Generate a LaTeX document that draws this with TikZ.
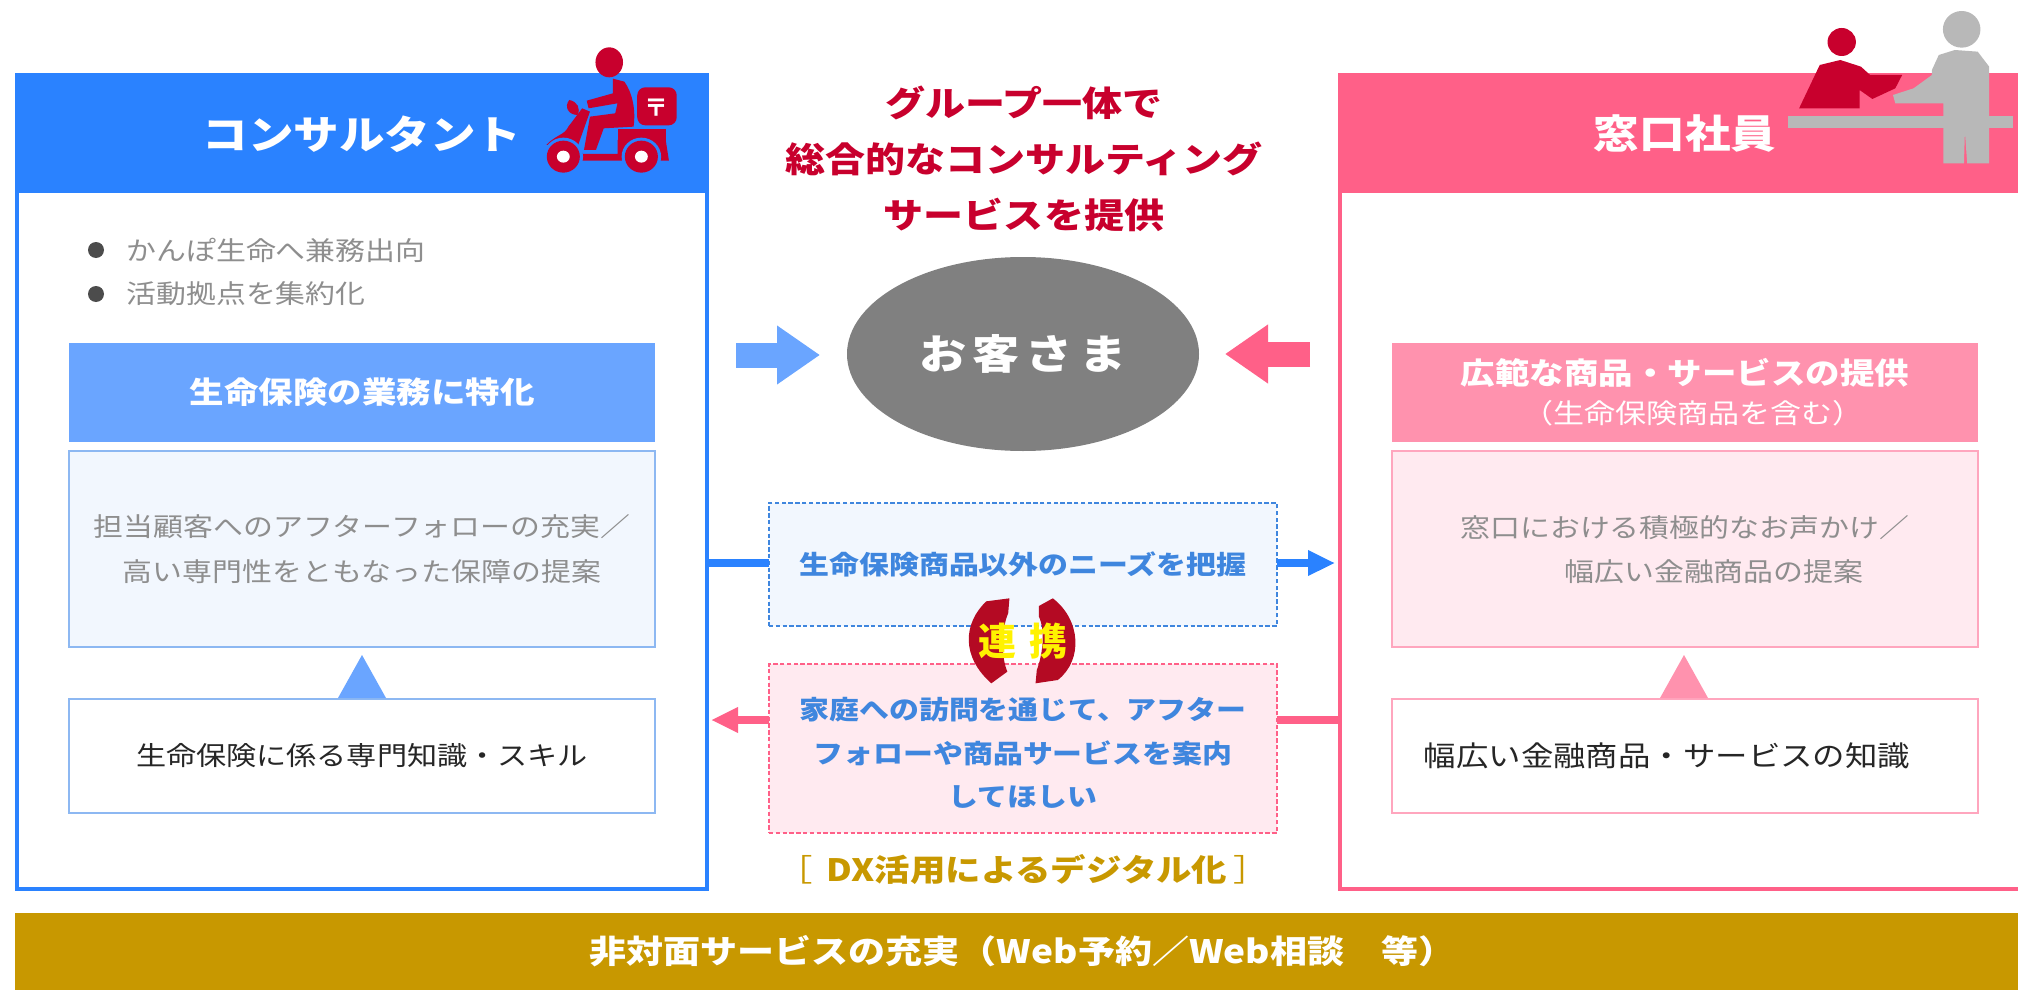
\documentclass[tikz,border=0pt]{standalone}
\usepackage{fontspec}
\usepackage{tikz}
\usetikzlibrary{arrows.meta}
\usetikzlibrary{shapes.geometric}
\newfontfamily\jp[FakeStretch=1.15]{Noto Sans CJK JP}
\newfontfamily\jpplain{Noto Sans CJK JP}
\newcommand{\jpsize}[2]{\fontsize{#1}{#2}\selectfont\jp}
\definecolor{blueMain}{HTML}{2A82FF}
\definecolor{blueSoft}{HTML}{6AA5FF}
\definecolor{blueEdge}{HTML}{8DB8F2}
\definecolor{blueFill}{HTML}{F2F7FE}
\definecolor{blueText}{HTML}{3F86DE}
\definecolor{pinkMain}{HTML}{FF6088}
\definecolor{pinkSoft}{HTML}{FF92AE}
\definecolor{pinkEdge}{HTML}{FFA6BE}
\definecolor{pinkFill}{HTML}{FFEAF0}
\definecolor{redIcon}{HTML}{C8002D}
\definecolor{redLink}{HTML}{B40A23}
\definecolor{goldBar}{HTML}{C89800}
\definecolor{greyIcon}{HTML}{B8B8B8}
\definecolor{greyText}{HTML}{8E8E8E}
\begin{document}
\begin{tikzpicture}[x=0.5pt,y=-0.5pt,
    sized/.style 2 args={minimum width=#1*0.5pt,minimum height=#2*0.5pt,inner sep=0pt,outer sep=0pt},
    panel/.style={draw=#1,line width=2pt,fill=white},
    head/.style={fill=#1,text=white,font=\jpsize{19.8}{24}\bfseries},
    subhead/.style={fill=#1,text=white,align=center,font=\jpsize{15}{20}\bfseries},
    softbox/.style={draw=#1,line width=1pt,align=center,text=greyText,font=\jpsize{13}{22.5}},
    plainbox/.style={draw=#1,line width=1pt,fill=white,text=black!85,font=\jpsize{13.1}{20}},
    dashbox/.style={draw=#1,line width=0.8pt,dash pattern=on 2.2pt off 1.2pt,align=center},
    flowtext/.style={text=blueText,align=center,font=\jpsize{13}{21.7}\bfseries},
    bluelink/.style={draw=blueMain,line width=4pt,-{Triangle[length=13.5pt,width=12pt]}},
    pinklink/.style={draw=pinkMain,line width=4pt,-{Triangle[length=13.5pt,width=12pt]}},
    blockarrow/.style={draw=#1,line width=12.5pt,-{Triangle[length=21.5pt,width=28pt]}}]

    \clip (0,0) rectangle (2018,990);

    \node[panel=blueMain,sized={690}{814}] (consult) at (362,482) {};
    \node[panel=pinkMain,sized={690}{814}] (window) at (1685,482) {};
    \node[head=blueMain,sized={694}{118}] (consultHead) at (362,134) {\raisebox{1pt}{コンサルタント}};
    \node[head=pinkMain,sized={694}{118}] (windowHead) at (1685,134) {\raisebox{1pt}{窓口社員}};

    \node[circle,fill=black!70,sized={16}{16}] (dotA) at (96,250) {};
    \node[circle,fill=black!70,sized={16}{16}] (dotB) at (96,294) {};
    \node[anchor=west,inner sep=0pt,text=greyText,font=\jpsize{13}{20}] (noteA) at (126,250) {かんぽ生命へ兼務出向};
    \node[anchor=west,inner sep=0pt,text=greyText,font=\jpsize{13}{20}] (noteB) at (126,294) {活動拠点を集約化};

    \node[subhead=blueSoft,sized={586}{99}] (lifeHead) at (362,392) {生命保険の業務に特化};
    \node[softbox=blueEdge,fill=blueFill,sized={586}{196}] (lifeBox) at (362,549)
        {担当顧客へのアフターフォローの充実／\\高い専門性をともなった保障の提案};
    \node[plainbox=blueEdge,sized={586}{114}] (lifeSkill) at (362,756) {生命保険に係る専門知識・スキル};
    \fill[blueSoft] (338,698) -- (362,655) -- (386,698) -- cycle;

    \node[subhead=pinkSoft,sized={586}{99},font=\jpsize{15}{19.5}\bfseries] (rangeHead) at (1685,392)
        {広範な商品・サービスの提供\\{\jpsize{13.5}{19.5}\mdseries\hspace*{8pt}（生命保険商品を含む）}};
    \node[softbox=pinkEdge,fill=pinkFill,sized={586}{196}] (rangeBox) at (1685,549) {};
    \node[anchor=west,inner sep=0pt,align=left,text=greyText,font=\jpsize{13}{22}] (rangeText) at (1460,550)
        {窓口における積極的なお声かけ／\\\hspace*{52pt}幅広い金融商品の提案};
    \node[plainbox=pinkEdge,sized={586}{114}] (rangeSkill) at (1685,756) {};
    \node[inner sep=0pt,text=black!85,font=\jpsize{14.1}{20}] (rangeSkillText) at (1667,756) {幅広い金融商品・サービスの知識};
    \fill[pinkSoft] (1660,698) -- (1684,655) -- (1708,698) -- cycle;

    \node[inner sep=0pt,align=center,text=redIcon,font=\jpsize{17.4}{28}\bfseries] (groupText) at (1024,159)
        {グループ一体で\\総合的なコンサルティング\\サービスを提供};
    \node[ellipse,fill=black!50,text=white,sized={352}{194},font=\jpsize{20.5}{24}\bfseries] (customer) at (1023,354)
        {お\hspace{3pt}客\hspace{3pt}さ\hspace{3pt}ま};
    \coordinate (leftTail) at (736,355);
    \coordinate (leftTip) at (820,355);
    \coordinate (rightTail) at (1310,354);
    \coordinate (rightTip) at (1225,354);
    \draw[blockarrow=blueSoft] (leftTail) -- (leftTip);
    \draw[blockarrow=pinkMain] (rightTail) -- (rightTip);

    \node[dashbox=blueText,fill=blueFill,sized={508}{123},flowtext] (needsBox) at (1023,564.5) {生命保険商品以外のニーズを把握};
    \node[dashbox=pinkMain,fill=pinkFill,sized={508}{169}] (askBox) at (1023,748.5) {};
    \node[flowtext,inner sep=0pt] (askText) at (1023,753)
        {家庭への訪問を通じて、アフター\\フォローや商品サービスを案内\\してほしい};

    \coordinate (needsLine) at (709,563);
    \coordinate (askLine) at (1340,720);
    \draw[draw=blueMain,line width=4pt] (needsLine) -- (needsLine -| needsBox.west);
    \draw[bluelink,shorten >=2.5pt] (needsLine -| needsBox.east) -- (needsLine -| window.west);
    \draw[draw=pinkMain,line width=4pt] (askLine) -- (askLine -| askBox.east);
    \draw[pinklink,shorten >=2pt] (askLine -| askBox.west) -- (askLine -| consult.east);

    \begin{scope}[shift={(700,480)},xscale=0.421,yscale=0.3333]
      \fill[redLink] (735,355) -- (680,364) .. controls (625,430) and (620,530) .. (692,610)
        -- (730,575) .. controls (715,530) and (715,450) .. (732,400) -- cycle;
      \fill[redLink] (805,378) -- (838,355) .. controls (905,420) and (910,540) .. (850,600)
        -- (797,610) -- (800,570) .. controls (815,520) and (820,450) .. (805,410) -- cycle;
    \end{scope}
    \node[inner sep=0pt,text=yellow,font=\fontsize{19}{24}\selectfont\jpplain\bfseries] (linkText) at (1023,641) {連\hspace{7pt}携};

    \node[inner sep=0pt,text=goldBar,font=\jpsize{15.4}{20}\bfseries] (dxText) at (1023,870)
        {{\mdseries ［\hspace{-3pt}}\hspace{6pt} DX活用によるデジタル化\hspace{6pt}{\mdseries \hspace{-3pt}］}};
    \node[fill=goldBar,text=white,sized={2003}{77},font=\jpsize{16.1}{20}\bfseries] (bottomBar) at (1016.5,951.5)
        {\hspace*{6pt}非対面サービスの充実（Web予約／Web相談　等）};

    \begin{scope}[xscale=0.4591,yscale=0.3333]
      \fill[redIcon] (1327,187) ellipse (30 and 45);
      \fill[redIcon] (1335,236) -- (1360,245) .. controls (1378,280) and (1385,330) .. (1380,380)
        -- (1315,385) -- (1298,450) -- (1272,450) -- (1285,350) -- (1340,340) -- (1345,310)
        -- (1282,325) -- (1278,302) -- (1335,280) -- cycle;
      \fill[redIcon,rounded corners=4pt] (1388,262) rectangle (1474,376);
      \fill[redIcon] (1345,387) rectangle (1450,420);
      \fill[redIcon] (1240,300) .. controls (1228,320) and (1238,345) .. (1258,345) .. controls (1265,325) and (1258,305) .. (1240,300) -- cycle;
      \fill[redIcon] (1190,435) .. controls (1210,405) and (1230,405) .. (1238,380) -- (1268,325) -- (1285,335)
        -- (1258,440) -- (1270,462) -- (1345,462) -- (1345,420) -- (1450,420) -- (1457,482) -- (1360,482) -- (1268,482)
        -- (1240,425) -- cycle;
      \fill[blueMain] (1227,470) ellipse (43 and 57);
      \fill[blueMain] (1397,470) ellipse (43 and 57);
      \fill[redIcon] (1227,470) ellipse (36 and 48);
      \fill[white] (1227,470) ellipse (14 and 18);
      \fill[redIcon] (1397,470) ellipse (36 and 48);
      \fill[white] (1397,470) ellipse (14 and 18);
    \end{scope}
    \node[inner sep=0pt,text=white,font=\fontsize{12}{12}\selectfont\jpplain\bfseries] (postMark) at (656,108) {〒};

    \begin{scope}[shift={(1300,0)},xscale=0.4579,yscale=0.3333]
      \fill[greyIcon] (1065,348) rectangle (1558,385);
      \fill[redIcon] (1183,126) ellipse (31 and 42);
      \fill[redIcon] (1090,325) -- (1135,195) -- (1180,180) -- (1225,200) -- (1245,225) -- (1315,225)
        -- (1300,265) -- (1250,297) -- (1222,270) -- (1222,325) -- cycle;
      \fill[greyIcon] (1445,88) ellipse (41 and 55);
      \fill[greyIcon] (1380,210) -- (1395,165) -- (1430,150) -- (1480,155) -- (1505,200) -- (1505,490)
        -- (1457,490) -- (1452,395) -- (1450,490) -- (1405,490) -- (1405,310) -- (1300,310)
        -- (1295,285) -- (1340,265) -- (1380,225) -- cycle;
    \end{scope}
\end{tikzpicture}
\end{document}
